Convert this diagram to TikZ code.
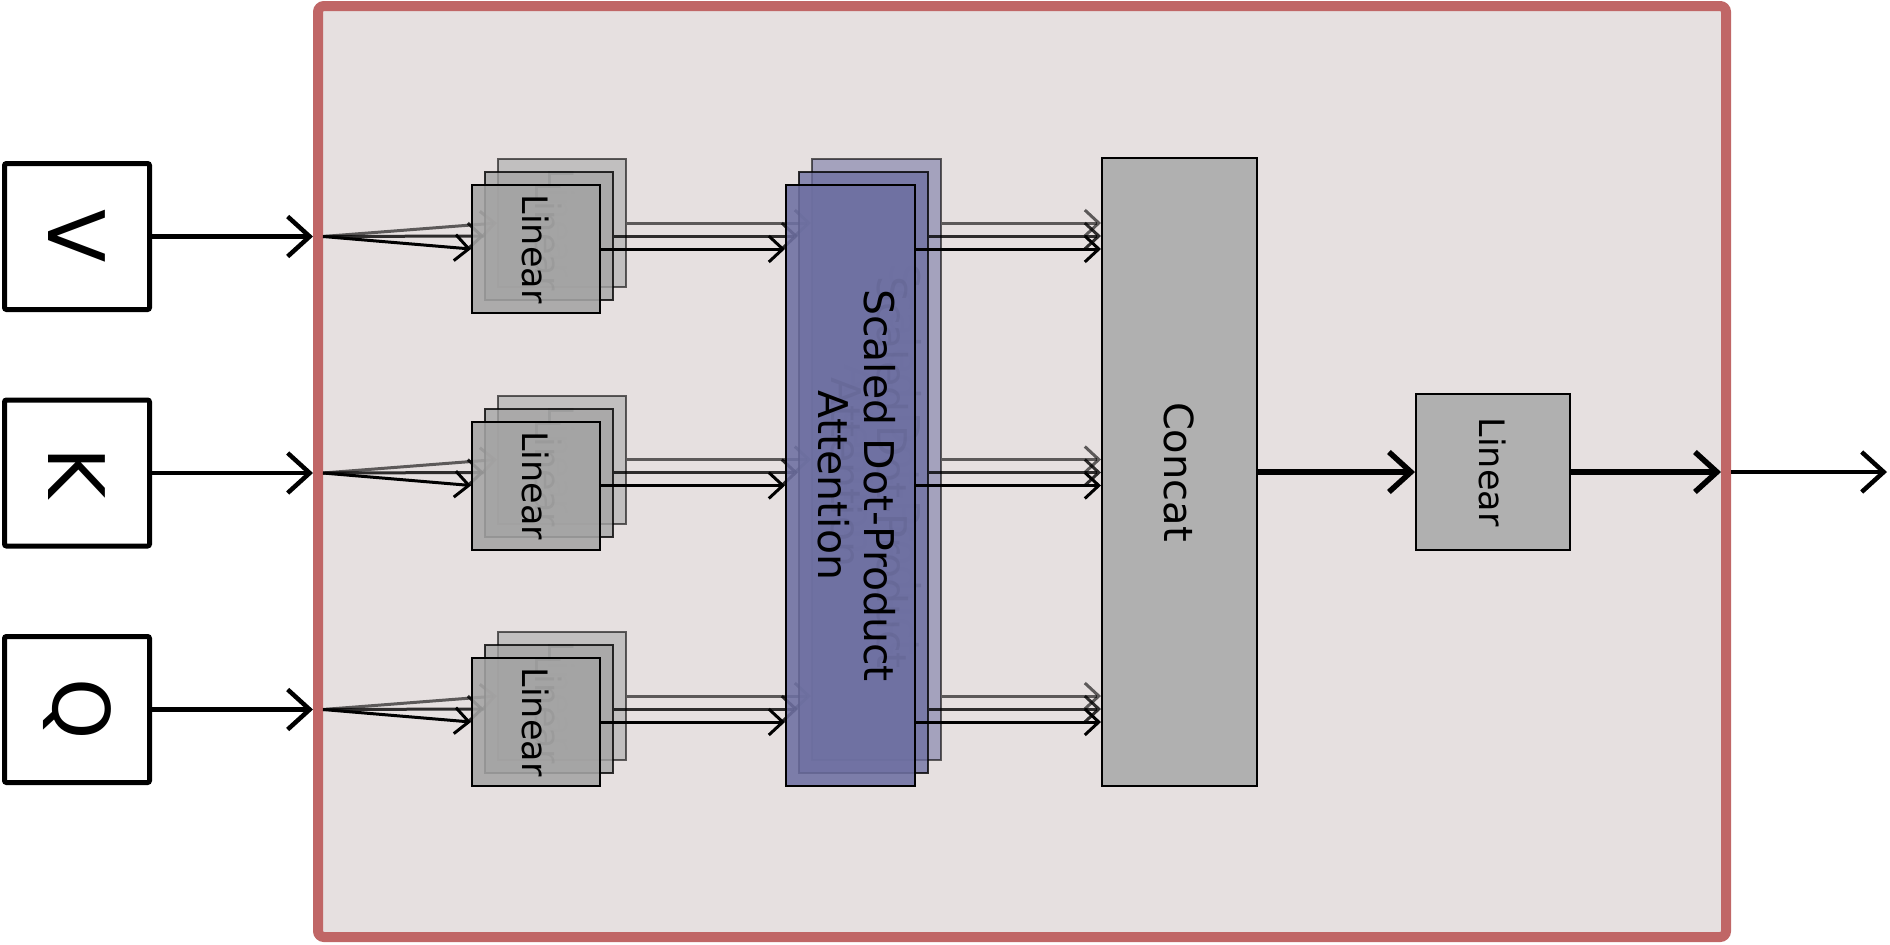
\documentclass[tikz,border=0pt]{standalone}
\usepackage{fontspec}
\setmainfont{DejaVu Sans}
\usetikzlibrary{arrows.meta}
\definecolor{bgpink}{RGB}{230,224,224}
\definecolor{borderred}{RGB}{192,102,102}
\definecolor{lingray}{RGB}{164,164,164}
\definecolor{attblue}{RGB}{110,112,162}
\definecolor{concatgray}{RGB}{176,176,176}
\tikzset{
  bigbox/.style={draw=borderred, fill=bgpink, line width=10pt, rounded corners=6pt,
    minimum width=1408pt, minimum height=931pt, inner sep=0pt},
  inbox/.style={draw, fill=white, line width=5pt, rounded corners=2pt,
    minimum width=145pt, minimum height=146pt, inner sep=0pt,
    font=\fontsize{78}{90}\selectfont},
  linbox/.style={draw, line width=2pt, fill=lingray, minimum width=128pt,
    minimum height=128pt, inner sep=0pt, font=\fontsize{35}{42}\selectfont},
  attbox/.style={draw, line width=2pt, fill=attblue, minimum width=129pt,
    minimum height=601pt, inner sep=0pt, font=\fontsize{41}{46}\selectfont},
  graybox/.style={draw, line width=2pt, fill=concatgray, inner sep=0pt},
  bigarrow/.style={line width=4.5pt, -{Straight Barb[length=22pt,width=40pt]}},
  thickarrow/.style={line width=5.5pt, -{Straight Barb[length=22pt,width=40pt]}},
  smallarrow/.style={line width=3pt, -{Straight Barb[length=14pt,width=26pt]}},
}
\begin{document}
\begin{tikzpicture}[x=1pt,y=-1pt]
\useasboundingbox (0,0) rectangle (1890,945);
\node[bigbox] (bb) at (1022,471.5) {};
% Concat and output linear
\node[graybox, minimum width=155pt, minimum height=628pt, font=\fontsize{40}{46}\selectfont]
  (C) at (1179.5,472) {\rotatebox{-90}{Concat}};
\node[graybox, minimum width=154pt, minimum height=156pt, font=\fontsize{35}{42}\selectfont]
  (RL) at (1493,472) {\rotatebox{-90}{Linear}};
% inputs
\foreach \r/\lab in {0/V,1/K,2/Q}{
  \node[inbox] (I\r) at (77,236.5+236.5*\r) {\rotatebox{-90}{\lab}};
  \coordinate (o\r) at (323,236.5+236.5*\r);
  \draw[bigarrow] (I\r.east) -- (bb.west |- I\r.east);
}
% heads (back to front)
\foreach \d/\op/\fo/\to/\nm in {26/0.6/0.55/0.3/c,13/0.8/0.78/0.45/b,0/1/0.88/1/a}{
  \begin{scope}[opacity=\op, fill opacity=\fo, text opacity=\to]
    \node[attbox] (A\nm) at (850.5+\d,485.5-\d)
      {\rotatebox{-90}{\begin{tabular}{@{}c@{}}Scaled Dot-Product\\Attention\end{tabular}}};
    \foreach \r in {0,1,2}{
      \node[linbox] (L\nm\r) at (536+\d,249+236.5*\r-\d) {\rotatebox{-90}{Linear}};
      \draw[smallarrow] (o\r) -- (L\nm\r.west);
      \draw[smallarrow] (L\nm\r.east) -- (A\nm.west |- L\nm\r.east);
      \draw[smallarrow] (A\nm.east |- L\nm\r.east) -- (C.west |- L\nm\r.east);
    }
  \end{scope}
}
% output
\coordinate (bo) at (1721,472);
\coordinate (bo2) at (1731,472);
\coordinate (out) at (1887,472);
\draw[thickarrow] (C.east) -- (RL.west);
\draw[thickarrow] (RL.east) -- (bo);
\draw[bigarrow] (bo2) -- (out);
\end{tikzpicture}
\end{document}
